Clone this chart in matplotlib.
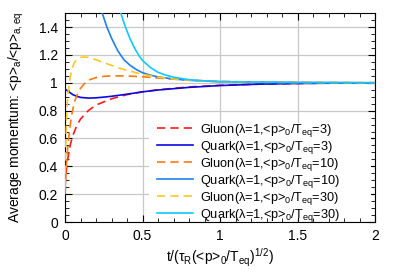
import numpy as np
import matplotlib
matplotlib.use("Agg")
import matplotlib.pyplot as plt
from matplotlib.ticker import MultipleLocator, FormatStrFormatter
from matplotlib.patches import Rectangle

plt.rcParams["font.family"] = ["Liberation Sans", "DejaVu Sans"]
plt.rcParams["mathtext.fontset"] = "custom"
plt.rcParams["mathtext.rm"] = "Liberation Sans"
plt.rcParams["mathtext.it"] = "Liberation Sans"
plt.rcParams["mathtext.default"] = "regular"

# Data
t_g3 = [0, 0.005, 0.01, 0.02, 0.035, 0.05, 0.075, 0.1, 0.15, 0.2, 0.3, 0.4,
        0.5, 0.6, 0.8, 1.0, 1.25, 1.5, 1.75, 2.0]
y_g3 = [0.25, 0.33, 0.39, 0.47, 0.56, 0.62, 0.69, 0.74, 0.80, 0.84, 0.885, 0.915,
        0.935, 0.95, 0.97, 0.982, 0.99, 0.995, 0.998, 1.0]

t_q3 = [0, 0.025, 0.05, 0.075, 0.1, 0.15, 0.2, 0.25, 0.3, 0.4, 0.5, 0.6,
        0.8, 1.0, 1.25, 1.5, 2.0]
y_q3 = [0.955, 0.935, 0.915, 0.903, 0.895, 0.89, 0.892, 0.897, 0.903, 0.918, 0.935, 0.948,
        0.967, 0.98, 0.99, 0.995, 1.0]

t_g10 = [0, 0.005, 0.01, 0.02, 0.03, 0.045, 0.06, 0.08, 0.1, 0.13, 0.16, 0.2,
         0.25, 0.3, 0.4, 0.5, 0.6, 0.7, 0.8, 1.0, 1.25, 1.5, 2.0]
y_g10 = [0.2, 0.33, 0.43, 0.57, 0.67, 0.78, 0.86, 0.92, 0.96, 1.0, 1.022, 1.037,
         1.046, 1.05, 1.049, 1.043, 1.034, 1.026, 1.019, 1.01, 1.005, 1.002, 1.0]

t_q10 = [0.2, 0.24, 0.27, 0.3, 0.34, 0.38, 0.42, 0.46, 0.5, 0.55, 0.6, 0.7,
         0.8, 0.9, 1.0, 1.25, 1.5, 2.0]
y_q10 = [1.7, 1.5, 1.4, 1.32, 1.23, 1.165, 1.125, 1.095, 1.072, 1.055, 1.042, 1.027,
         1.018, 1.012, 1.008, 1.004, 1.002, 1.0]

t_g30 = [0, 0.003, 0.006, 0.01, 0.015, 0.02, 0.03, 0.045, 0.06, 0.08, 0.1, 0.13,
         0.16, 0.2, 0.25, 0.3, 0.35, 0.4, 0.5, 0.6, 0.7, 0.8, 0.9, 1.0, 1.25, 1.5, 2.0]
y_g30 = [0.25, 0.45, 0.6, 0.75, 0.86, 0.93, 1.02, 1.1, 1.145, 1.17, 1.182, 1.185,
         1.18, 1.165, 1.145, 1.125, 1.105, 1.09, 1.06, 1.04, 1.027, 1.018, 1.012, 1.008,
         1.004, 1.002, 1.0]

t_q30 = [0.33, 0.36, 0.38, 0.4, 0.42, 0.45, 0.48, 0.5, 0.55, 0.6, 0.65, 0.7,
         0.8, 0.9, 1.0, 1.25, 1.5, 2.0]
y_q30 = [1.62, 1.5, 1.43, 1.37, 1.315, 1.245, 1.19, 1.16, 1.11, 1.075, 1.055, 1.04,
         1.022, 1.013, 1.008, 1.004, 1.002, 1.0]

labels = [
    r"Gluon(λ=1,<p>$_0$/T$_{eq}$=3)",
    r"Quark(λ=1,<p>$_0$/T$_{eq}$=3)",
    r"Gluon(λ=1,<p>$_0$/T$_{eq}$=10)",
    r"Quark(λ=1,<p>$_0$/T$_{eq}$=10)",
    r"Gluon(λ=1,<p>$_0$/T$_{eq}$=30)",
    r"Quark(λ=1,<p>$_0$/T$_{eq}$=30)",
]

fig = plt.figure(figsize=(3.99, 2.79), dpi=100)
ax = fig.add_axes([0.163, 0.204, 0.777, 0.749])

dash = (5, 3)
ax.plot(t_g3, y_g3, color="#ff1a1a", lw=1.2, dashes=dash, label=labels[0], zorder=3)
ax.plot(t_q3, y_q3, color="#0a0adc", lw=1.2, label=labels[1], zorder=3)
ax.plot(t_g10, y_g10, color="#ff7a10", lw=1.2, dashes=dash, label=labels[2], zorder=3)
ax.plot(t_q10, y_q10, color="#2080f0", lw=1.2, label=labels[3], zorder=3)
ax.plot(t_g30, y_g30, color="#ffc820", lw=1.2, dashes=dash, label=labels[4], zorder=3)
ax.plot(t_q30, y_q30, color="#10c8ff", lw=1.2, label=labels[5], zorder=3)

ax.set_xlim(0, 2)
ax.set_ylim(0, 1.5)
ax.xaxis.set_major_locator(MultipleLocator(0.5))
ax.xaxis.set_minor_locator(MultipleLocator(0.1))
ax.yaxis.set_major_locator(MultipleLocator(0.2))
ax.yaxis.set_minor_locator(MultipleLocator(0.05))
ax.xaxis.set_major_formatter(FormatStrFormatter("%g"))
ax.yaxis.set_major_formatter(FormatStrFormatter("%g"))
ax.tick_params(which="both", direction="in", top=True, right=True, labelsize=10)
ax.tick_params(which="major", length=5, width=0.8, pad=5)
ax.tick_params(which="minor", length=3, width=0.6)
ax.set_axisbelow(True)
ax.grid(True, which="major", color="#c8c8c8", lw=0.9)

# opaque key box (hides the grid behind the legend)
ax.add_patch(Rectangle((0.271, 0.02), 0.715, 0.455, transform=ax.transAxes,
                       facecolor="white", edgecolor="none", zorder=1))

ax.legend(loc="upper left", bbox_to_anchor=(0.297, 0.48), frameon=False,
          fontsize=9.2, handlelength=2.8, handletextpad=0.55, labelspacing=0.0,
          borderpad=0, borderaxespad=0)

ax.set_xlabel(r"t/(τ$_R$(<p>$_0$/T$_{eq}$)$^{1/2}$)", fontsize=10, labelpad=3)
ax.set_ylabel(r"Average momentum: <p>$_a$/<p>$_{a,eq}$", fontsize=10, labelpad=9)

fig.savefig("out.png", dpi=100)
